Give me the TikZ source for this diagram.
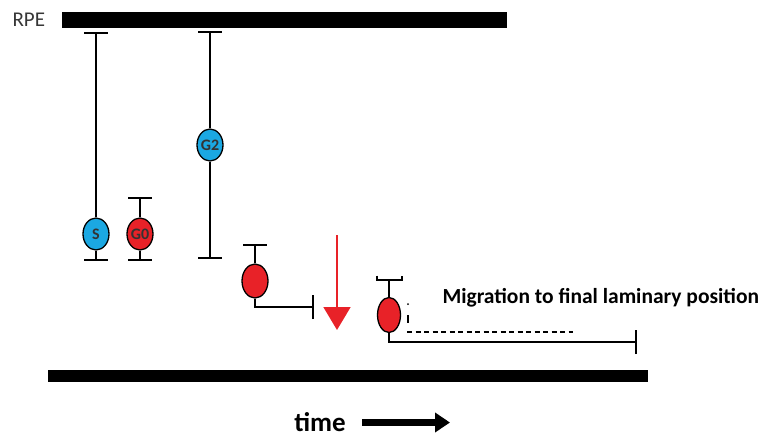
\documentclass[tikz,border=0pt]{standalone}
\usepackage{fontspec}
\setmainfont{Carlito}
\usetikzlibrary{shapes.geometric,arrows.meta}
\definecolor{cellblue}{RGB}{27,168,226}
\definecolor{cellred}{RGB}{232,34,40}
\definecolor{labelgray}{RGB}{55,55,55}
\tikzset{
  cell/.style={ellipse, draw, line width=1.3pt, minimum width=26pt, minimum height=32pt,
    inner sep=0pt, text=black!80, font=\bfseries\fontsize{16}{16}\selectfont},
  bluecell/.style={cell, fill=cellblue},
  redcell/.style={cell, fill=cellred},
  fiber/.style={line width=1.6pt},
  tbar/.style={line width=2pt},
  layer/.style={fill=black, inner sep=0pt},
}
\begin{document}
\begin{tikzpicture}[x=1pt,y=-1pt]
\useasboundingbox (0,0) rectangle (760,437);

% layers
\node[layer, minimum width=445pt, minimum height=16pt] (rpe) at (284.5,20) {};
\node[layer, minimum width=600pt, minimum height=12pt] (base) at (348,376) {};
\node[anchor=west, text=labelgray, font=\fontsize{21}{21}\selectfont] (rpelabel) at (9,20) {RPE};

% S-phase cell
\node[bluecell] (s) at (96,234) {S};
\coordinate (sTop) at (96,33);
\coordinate (sBot) at (96,260);
\draw[fiber] (s.north) -- (sTop);
\draw[fiber] (s.south) -- (sBot);
\draw[tbar] ([xshift=-12pt]sTop) -- ([xshift=12pt]sTop);
\draw[tbar] ([xshift=-12pt]sBot) -- ([xshift=12pt]sBot);

% G0 cell
\node[redcell] (g0) at (140,234) {G0};
\coordinate (g0Top) at (140,198);
\coordinate (g0Bot) at (140,260);
\draw[fiber] (g0.north) -- (g0Top);
\draw[fiber] (g0.south) -- (g0Bot);
\draw[tbar] ([xshift=-12pt]g0Top) -- ([xshift=12pt]g0Top);
\draw[tbar] ([xshift=-12pt]g0Bot) -- ([xshift=12pt]g0Bot);

% G2 cell
\node[bluecell] (g2) at (210,145) {G2};
\coordinate (g2Top) at (210,32);
\coordinate (g2Bot) at (210,258);
\draw[fiber] (g2.north) -- (g2Top);
\draw[fiber] (g2.south) -- (g2Bot);
\draw[tbar] ([xshift=-12pt]g2Top) -- ([xshift=12pt]g2Top);
\draw[tbar] ([xshift=-12pt]g2Bot) -- ([xshift=12pt]g2Bot);

% detaching cell
\node[redcell, minimum height=34pt] (d) at (255,281) {};
\coordinate (dTop) at (255,245);
\coordinate (dEnd) at (313,307);
\draw[fiber] (d.north) -- (dTop);
\draw[tbar] ([xshift=-12pt]dTop) -- ([xshift=12pt]dTop);
\draw[fiber] (d.south) |- (dEnd);
\draw[tbar] ([yshift=-12pt]dEnd) -- ([yshift=12pt]dEnd);

% red arrow
\coordinate (rStart) at (337,235);
\coordinate (rEnd) at (337,330);
\draw[cellred, line width=1.8pt, -{Triangle[width=27pt,length=23pt]}] (rStart) -- (rEnd);

% migrating cell
\node[redcell, minimum width=23pt, minimum height=35pt] (m) at (389,315) {};
\coordinate (mTop) at (389,280);
\coordinate (mEnd) at (636,342);
\draw[fiber] (m.north) -- (mTop);
\draw[tbar] (377,275.5) -- (377,280) -- (402,280) -- (402,275.5);
\draw[fiber] (m.south) |- (mEnd);
\draw[tbar] ([yshift=-12pt]mEnd) -- ([yshift=12pt]mEnd);
\fill (408,304) circle (1pt);
\draw[line width=1.2pt] (408,315) -- (408,323);
\coordinate (dashA) at (407,332);
\coordinate (dashB) at (573,332);
\draw[line width=1.4pt, dash pattern=on 5pt off 3.5pt] (dashA) -- (dashB);
\node[anchor=west, font=\bfseries\fontsize{21.5}{21.5}\selectfont] (mig) at (439,298) {Migration to final laminary position};

% time axis
\node[font=\bfseries\fontsize{27}{27}\selectfont] (time) at (320,422) {time};
\coordinate (tA) at (362,422.5);
\coordinate (tB) at (450,422.5);
\draw[line width=7pt, -{Triangle[width=19pt,length=15pt]}] (tA) -- (tB);
\end{tikzpicture}
\end{document}
